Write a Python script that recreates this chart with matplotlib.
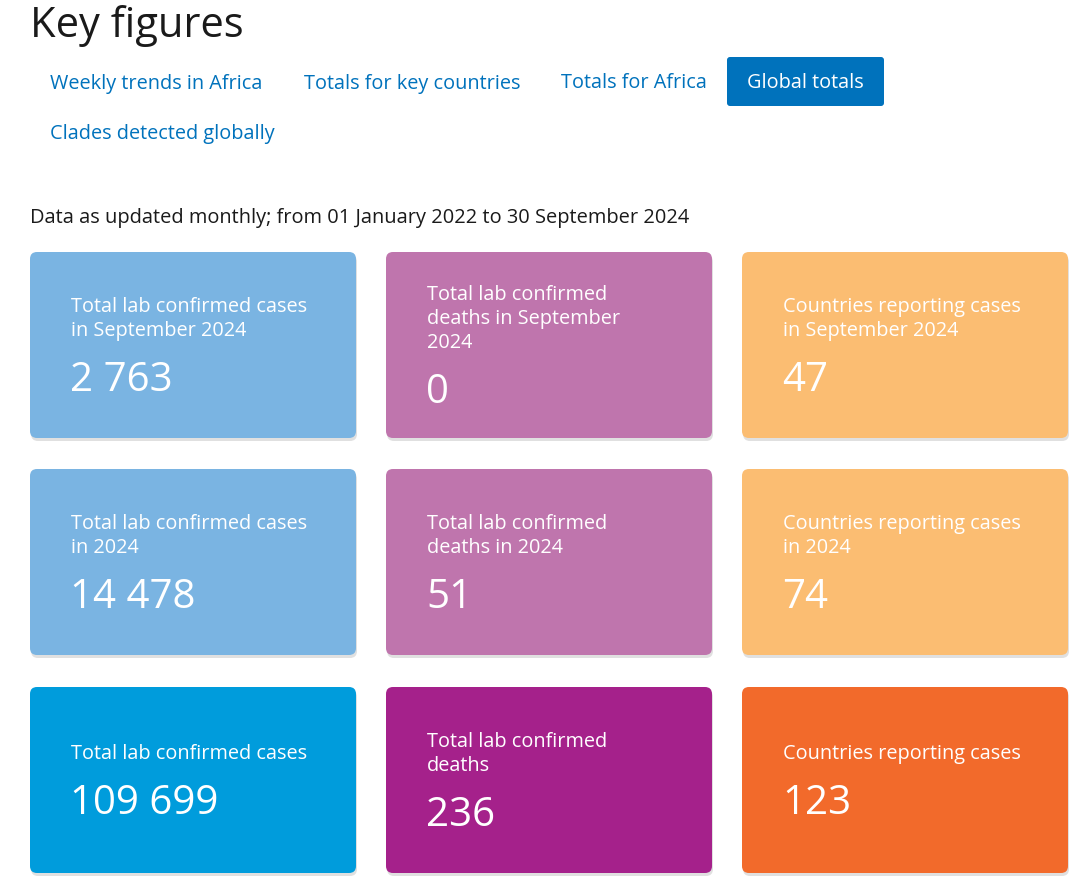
import matplotlib
matplotlib.use("Agg")
import matplotlib.pyplot as plt
from matplotlib.patches import FancyBboxPatch

plt.rcParams['font.family'] = ['Open Sans', 'DejaVu Sans']

title = "Key figures"
tabs = ["Weekly trends in Africa", "Totals for key countries", "Totals for Africa", "Global totals", "Clades detected globally"]
subtitle = "Data as updated monthly; from 01 January 2022 to 30 September 2024"
labels = [
    ["Total lab confirmed cases\nin September 2024", "Total lab confirmed\ndeaths in September\n2024", "Countries reporting cases\nin September 2024"],
    ["Total lab confirmed cases\nin 2024", "Total lab confirmed\ndeaths in 2024", "Countries reporting cases\nin 2024"],
    ["Total lab confirmed cases", "Total lab confirmed\ndeaths", "Countries reporting cases"],
]
values = [["2 763", "0", "47"], ["14 478", "51", "74"], ["109 699", "236", "123"]]
colors = [["#7AB4E2", "#BF75AD", "#FBBD72"],
          ["#7AB4E2", "#BF75AD", "#FBBD72"],
          ["#009CDC", "#A5218B", "#F26A2B"]]

fig = plt.figure(figsize=(10.81, 8.92), dpi=100)
ax = fig.add_axes([0, 0, 1, 1])
ax.set_xlim(0, 1081); ax.set_ylim(892, 0); ax.axis('off')

ax.text(30, 26, title, fontsize=30, va='center', ha='left', color='#1a1a1a')
tab_pos = [(50, 82), (304, 82), (561, 82), (747, 82), (50, 132)]
for t, (x, y) in zip(tabs, tab_pos):
    if t == "Global totals":
        ax.add_patch(FancyBboxPatch((727, 57), 157, 49, boxstyle="round,pad=0,rounding_size=3",
                                    fc='#0072BC', ec='none'))
        ax.text(x, y + 1.5, t, fontsize=14.35, va='center', ha='left', color='white')
    else:
        ax.text(x, y + 1.5, t, fontsize=14.35, va='center', ha='left', color='#0072BC')
ax.text(30, 218.5, subtitle, fontsize=14.4, va='center', ha='left', color='#1a1a1a')

col_x = [30, 386, 742]
row_y = [252, 469, 687]
w, h = 326, 186
for r in range(3):
    for c in range(3):
        x0, y0 = col_x[c], row_y[r]
        ax.add_patch(FancyBboxPatch((x0 + 1, y0 + 3), w, h, boxstyle="round,pad=0,rounding_size=7",
                                    fc='#cccccc', ec='none', alpha=0.6))
        ax.add_patch(FancyBboxPatch((x0, y0), w, h, boxstyle="round,pad=0,rounding_size=7",
                                    fc=colors[r][c], ec='none'))
        lines = labels[r][c].split("\n")
        n = len(lines)
        cc = y0 + h / 2
        f = cc - 26 - 12 * (n - 1)
        for i, ln in enumerate(lines):
            ax.text(x0 + 41, f + 24 * i, ln, fontsize=14.3, va='center', ha='left', color='white')
        ax.text(x0 + 40, f + 24 * (n - 1) + 50, values[r][c], fontsize=29, va='center', ha='left', color='white')

fig.savefig("out.png", dpi=100)
